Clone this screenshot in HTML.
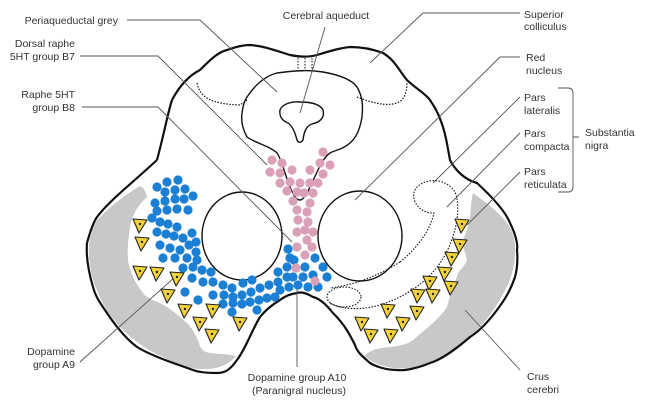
<!DOCTYPE html>
<html><head><meta charset="utf-8"><style>
html,body{margin:0;padding:0;background:#fff;}
svg{display:block;}
text{font-family:"Liberation Sans",sans-serif;font-size:10.5px;fill:#333;}
</style></head><body>
<svg width="650" height="414" viewBox="0 0 650 414" xmlns="http://www.w3.org/2000/svg">
<!-- gray crus -->
<path d="M140,186 C125,195 105,210 96,222 C91,232 88,243 89,255 C90,272 94,285 97,290 C102,305 110,315 118,325 C132,340 150,352 165,358 C180,366 192,369 200,369 C215,370 228,366 236,356 C228,354 218,354 210,353 C203,352 200,348 199,343 C196,335 192,328 187,323 C178,315 170,308 160,303 C152,300 146,297 143,293 C135,283 130,272 128,260 C127,248 129,235 130,227 C132,215 138,205 147,197 C146,192 144,188 140,186 Z" fill="#c8c8c8"/>
<path d="M473,193 C482,200 495,208 507,223 C514,233 516,243 515,255 C514,270 510,282 503,294 C495,310 483,325 470,337 C455,350 440,360 428,364 C415,368 402,369 395,368 C382,367 372,362 364,356 C370,350 378,348 390,347 C400,346 408,344 413,340 C425,330 440,318 447,307 C449,300 450,294 452,289 C455,282 457,277 458,273 C462,268 466,264 467,260 C465,252 462,245 463,240 C466,232 470,224 470,217 C471,208 471,200 473,193 Z" fill="#c8c8c8"/>
<!-- outer outline -->
<path d="M157,160 C165,130 168,112 172,100 C180,85 190,75 200,70 C210,60 218,52 227,50 C235,47 243,45 250,45 C265,46 280,52 290,55 C300,57 310,57 317,55 C330,51 340,48 350,47 C365,47 375,50 383,53 C395,60 400,72 407,80 C415,88 425,93 430,100 C437,110 440,118 443,127 C447,140 448,150 450,160 C455,170 465,180 477,183 C490,195 505,210 510,223 C516,235 518,245 517,250 C518,262 517,270 515,277 C510,292 503,302 497,310 C488,322 478,332 470,337 C455,350 440,360 430,363 C418,368 405,371 397,370 C385,370 375,366 370,363 C362,356 357,352 355,345 C350,335 345,325 333,313 C325,303 318,298 313,297 C305,292 300,292 297,293 C290,294 285,296 280,300 C270,306 264,312 260,317 C252,330 245,350 237,360 C230,370 225,373 217,373 C205,373 198,372 193,370 C170,362 150,355 137,347 C125,338 115,325 107,313 C98,300 95,295 93,287 C88,270 86,255 87,243 C90,232 93,223 97,217 C110,200 130,185 157,160" fill="none" stroke="#111" stroke-width="2.2"/>
<!-- periaqueductal grey -->
<path d="M277,73 C300,70 310,70 323,72 C340,75 352,80 357,87 C363,97 363,107 362,117 C360,130 356,138 350,143 C342,150 335,150 330,153 C322,158 316,175 310,187 C306,196 303,200 300,200 C296,200 294,196 290,187 C285,175 282,160 277,153 C270,146 255,143 247,137 C242,128 241,120 242,113 C243,105 245,100 247,97 C255,85 265,76 277,73 Z" fill="#fff" stroke="#111" stroke-width="1.4"/>
<!-- aqueduct -->
<path d="M280,110 C282,104 292,101 300,102 C310,102 320,104 323,110 C325,118 320,122 312,124 C306,126 304,132 303,140 C301,143 298,143 297,140 C295,132 292,124 286,122 C282,120 279,116 280,110 Z" fill="#fff" stroke="#111" stroke-width="1.4"/>
<!-- superior colliculus dotted -->
<path d="M197,83 C200,98 212,104 240,105 L247,100" fill="none" stroke="#111" stroke-width="1.2" stroke-dasharray="1.5,1.5"/>
<path d="M357,97 C375,104 392,108 402,100 C406,95 407,88 407,82" fill="none" stroke="#111" stroke-width="1.2" stroke-dasharray="1.5,1.5"/>
<path d="M298,58 L298,71 M305,58 L305,71 M312,58 L312,71" stroke="#111" stroke-width="1" stroke-dasharray="1.5,1.5"/>
<!-- red nuclei -->
<ellipse cx="242" cy="236" rx="40" ry="44" fill="#fff" stroke="#111" stroke-width="1.4"/>
<ellipse cx="360" cy="236" rx="42" ry="45" fill="#fff" stroke="#111" stroke-width="1.4"/>
<!-- substantia nigra dotted -->
<g fill="none" stroke="#111" stroke-width="1.1" stroke-dasharray="1.5,1.5">
<path d="M400,262 C415,250 430,232 434,213 C420,214 410,200 415,190 C420,180 440,176 452,188 C460,196 458,215 456,225 C448,262 425,290 380,305 C360,311 340,309 330,303"/>
<path d="M400,262 C380,275 355,285 330,288"/>
<ellipse cx="344" cy="297" rx="17" ry="10"/>
</g>
<!-- leader lines -->
<g fill="none" stroke="#555" stroke-width="0.9">
<path d="M127,20 L200,20 L277,92"/>
<path d="M80,56 L158,56 L267,165"/>
<path d="M82,107 L158,107 L292,242"/>
<path d="M325,27 L300,113"/>
<path d="M520,13 L423,13 L370,63"/>
<path d="M520,57 L500,57 L355,200"/>
<path d="M520,97 L433,183"/>
<path d="M520,133 L447,207"/>
<path d="M520,172 L467,225"/>
<path d="M80,362 L185,268"/>
<path d="M297,287 L297,367"/>
<path d="M520,370 L465,310"/>
<path d="M558,88 L568,88 Q573,88 573,93 L573,187 Q573,192 568,192 L558,192 M573,137 L579,137"/>
</g>
<!-- blue dots -->
<g fill="#1b7fd4">
<circle cx="157" cy="187" r="4.6"/><circle cx="167" cy="182" r="4.6"/><circle cx="178" cy="180" r="4.6"/>
<circle cx="165" cy="192" r="4.6"/><circle cx="175" cy="190" r="4.6"/><circle cx="185" cy="189" r="4.6"/>
<circle cx="155" cy="203" r="4.6"/><circle cx="165" cy="201" r="4.6"/><circle cx="175" cy="199" r="4.6"/><circle cx="184" cy="199" r="4.6"/><circle cx="193" cy="196" r="4.6"/>
<circle cx="157" cy="211" r="4.6"/><circle cx="167" cy="210" r="4.6"/><circle cx="177" cy="209" r="4.6"/><circle cx="188" cy="210" r="4.6"/>
<circle cx="152" cy="218" r="4.6"/><circle cx="160" cy="222" r="4.6"/><circle cx="168" cy="224" r="4.6"/><circle cx="177" cy="227" r="4.6"/>
<circle cx="157" cy="232" r="4.6"/><circle cx="166" cy="234" r="4.6"/><circle cx="174" cy="236" r="4.6"/><circle cx="183" cy="238" r="4.6"/><circle cx="192" cy="233" r="4.6"/>
<circle cx="160" cy="245" r="4.6"/><circle cx="170" cy="248" r="4.6"/><circle cx="180" cy="250" r="4.6"/><circle cx="189" cy="245" r="4.6"/><circle cx="196" cy="242" r="4.6"/>
<circle cx="163" cy="258" r="4.6"/><circle cx="175" cy="258" r="4.6"/><circle cx="187" cy="258" r="4.6"/><circle cx="196" cy="252" r="4.6"/>
<circle cx="183" cy="268" r="4.6"/><circle cx="193" cy="267" r="4.6"/><circle cx="202" cy="270" r="4.6"/><circle cx="211" cy="272" r="4.6"/><circle cx="197" cy="260" r="4.6"/>
<circle cx="192" cy="278" r="4.6"/><circle cx="203" cy="282" r="4.6"/><circle cx="213" cy="282" r="4.6"/><circle cx="223" cy="285" r="4.6"/><circle cx="232" cy="288" r="4.6"/>
<circle cx="185" cy="292" r="4.6"/><circle cx="213" cy="295" r="4.6"/><circle cx="224" cy="295" r="4.6"/><circle cx="233" cy="297" r="4.6"/><circle cx="242" cy="295" r="4.6"/><circle cx="251" cy="292" r="4.6"/><circle cx="260" cy="288" r="4.6"/><circle cx="269" cy="285" r="4.6"/><circle cx="278" cy="282" r="4.6"/><circle cx="287" cy="277" r="4.6"/>
<circle cx="198" cy="300" r="4.6"/><circle cx="223" cy="304" r="4.6"/><circle cx="233" cy="303" r="4.6"/><circle cx="242" cy="304" r="4.6"/><circle cx="250" cy="302" r="4.6"/><circle cx="259" cy="300" r="4.6"/><circle cx="267" cy="298" r="4.6"/><circle cx="275" cy="297" r="4.6"/>
<circle cx="232" cy="312" r="4.6"/><circle cx="257" cy="310" r="4.6"/><circle cx="243" cy="283" r="4.6"/><circle cx="252" cy="280" r="4.6"/>
<circle cx="278" cy="272" r="4.6"/><circle cx="287" cy="267" r="4.6"/><circle cx="290" cy="258" r="4.6"/><circle cx="288" cy="249" r="4.6"/>
<circle cx="294" cy="260" r="4.6"/><circle cx="305" cy="267" r="4.6"/><circle cx="315" cy="258" r="4.6"/><circle cx="323" cy="267" r="4.6"/><circle cx="327" cy="277" r="4.6"/><circle cx="318" cy="287" r="4.6"/><circle cx="308" cy="287" r="4.6"/><circle cx="298" cy="285" r="4.6"/><circle cx="289" cy="287" r="4.6"/><circle cx="280" cy="290" r="4.6"/>
<circle cx="293" cy="277" r="4.6"/><circle cx="303" cy="277" r="4.6"/><circle cx="313" cy="275" r="4.6"/>
</g>
<!-- pink dots -->
<g fill="#d9a0b8">
<circle cx="272" cy="160" r="4.6"/><circle cx="282" cy="163" r="4.6"/><circle cx="270" cy="172" r="4.6"/><circle cx="280" cy="173" r="4.6"/><circle cx="292" cy="170" r="4.6"/>
<circle cx="280" cy="183" r="4.6"/><circle cx="290" cy="182" r="4.6"/><circle cx="300" cy="183" r="4.6"/><circle cx="287" cy="191" r="4.6"/><circle cx="297" cy="192" r="4.6"/><circle cx="293" cy="201" r="4.6"/>
<circle cx="310" cy="170" r="4.6"/><circle cx="320" cy="163" r="4.6"/><circle cx="330" cy="165" r="4.6"/><circle cx="323" cy="174" r="4.6"/><circle cx="310" cy="183" r="4.6"/><circle cx="318" cy="183" r="4.6"/><circle cx="323" cy="152" r="4.6"/>
<circle cx="304" cy="193" r="4.6"/><circle cx="313" cy="193" r="4.6"/><circle cx="310" cy="203" r="4.6"/>
<circle cx="297" cy="210" r="4.6"/><circle cx="307" cy="212" r="4.6"/><circle cx="298" cy="220" r="4.6"/><circle cx="308" cy="222" r="4.6"/>
<circle cx="297" cy="232" r="4.6"/><circle cx="305" cy="230" r="4.6"/><circle cx="313" cy="232" r="4.6"/><circle cx="307" cy="240" r="4.6"/>
<circle cx="297" cy="247" r="4.6"/><circle cx="312" cy="247" r="4.6"/><circle cx="305" cy="255" r="4.6"/><circle cx="296" cy="268" r="4.6"/><circle cx="315" cy="281" r="4.6"/>
</g>
<!-- triangles -->
<defs><g id="t"><path d="M-7,-6 L7,-5 L-1,8 Z" fill="#f2d13a" stroke="#222" stroke-width="1.1" stroke-linejoin="round"/><circle cx="0" cy="-1" r="1.2" fill="#222"/></g></defs>
<g>
<use href="#t" x="140" y="225"/><use href="#t" x="142" y="243"/><use href="#t" x="140" y="272"/><use href="#t" x="157" y="273"/><use href="#t" x="177" y="278"/><use href="#t" x="168" y="295"/><use href="#t" x="185" y="310"/><use href="#t" x="213" y="310"/><use href="#t" x="200" y="323"/><use href="#t" x="212" y="335"/><use href="#t" x="240" y="323"/>
<use href="#t" x="462" y="225"/><use href="#t" x="460" y="245"/><use href="#t" x="452" y="258"/><use href="#t" x="445" y="273"/><use href="#t" x="430" y="282"/><use href="#t" x="451" y="287"/><use href="#t" x="418" y="295"/><use href="#t" x="433" y="295"/><use href="#t" x="388" y="310"/><use href="#t" x="417" y="312"/><use href="#t" x="362" y="323"/><use href="#t" x="371" y="335"/><use href="#t" x="391" y="335"/><use href="#t" x="403" y="323"/>
</g>
<!-- labels -->
<g>
<text x="118" y="24" text-anchor="end">Periaqueductal grey</text>
<text x="75" y="47" text-anchor="end">Dorsal raphe</text>
<text x="75" y="60" text-anchor="end">5HT group B7</text>
<text x="75" y="98" text-anchor="end">Raphe 5HT</text>
<text x="75" y="111" text-anchor="end">group B8</text>
<text x="326" y="19" text-anchor="middle">Cerebral aqueduct</text>
<text x="524" y="18">Superior</text>
<text x="524" y="30">colliculus</text>
<text x="526" y="61">Red</text>
<text x="526" y="74">nucleus</text>
<text x="524" y="101">Pars</text>
<text x="524" y="114">lateralis</text>
<text x="524" y="137">Pars</text>
<text x="524" y="150">compacta</text>
<text x="524" y="175">Pars</text>
<text x="524" y="188">reticulata</text>
<text x="585" y="136">Substantia</text>
<text x="585" y="149">nigra</text>
<text x="75" y="355" text-anchor="end">Dopamine</text>
<text x="75" y="368" text-anchor="end">group A9</text>
<text x="297" y="381" text-anchor="middle">Dopamine group A10</text>
<text x="299" y="394" text-anchor="middle">(Paranigral nucleus)</text>
<text x="527" y="380">Crus</text>
<text x="527" y="393">cerebri</text>
</g>
</svg>
</body></html>
